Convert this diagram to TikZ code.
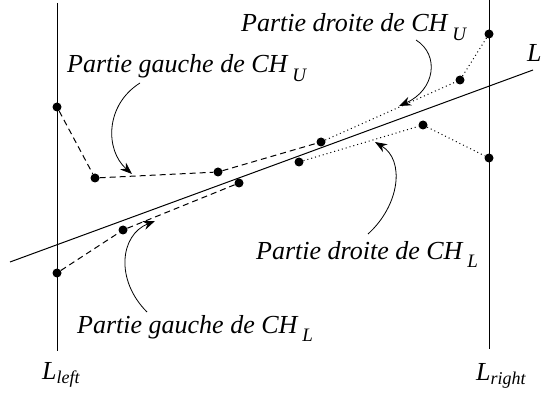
\documentclass[tikz,border=0pt]{standalone}
\usepackage{fontspec}
\setmainfont{Liberation Serif}
\usetikzlibrary{arrows.meta}
\begin{document}
\begin{tikzpicture}[x=1pt,y=-1pt,
  pt/.style={circle,fill,inner sep=0pt,minimum size=9pt},
  lbl/.style={anchor=base west,inner sep=0pt,font=\fontsize{26}{30}\selectfont\itshape},
  hulldash/.style={dash pattern=on 6pt off 4pt,line width=1pt},
  hulldot/.style={dash pattern=on 1pt off 3pt,line width=1pt},
  callout/.style={line width=0.8pt,-{Stealth[length=12pt,width=9pt]}},
  bound/.style={line width=1pt}]
\useasboundingbox (0,0) rectangle (542,396);
% vertical lines
\coordinate (lt) at (57,3);
\coordinate (lb) at (57,351);
\coordinate (rt) at (489,0);
\coordinate (rb) at (489,349);
\draw[bound] (lt) -- (lb);
\draw[bound] (rt) -- (rb);
% line L
\coordinate (La) at (10,262);
\coordinate (Lb) at (533,70);
\draw[bound] (La) -- (Lb);
\node[lbl] (Lname) at (527,62) {L};
% points
\node[pt] (u1) at (57,107) {};
\node[pt] (u2) at (95,178) {};
\node[pt] (u3) at (218,172) {};
\node[pt] (u4) at (321,142) {};
\node[pt] (u5) at (460,80) {};
\node[pt] (u6) at (489,34) {};
\node[pt] (l1) at (57,273) {};
\node[pt] (l2) at (123,230) {};
\node[pt] (l3) at (239,183) {};
\node[pt] (l4) at (299,162) {};
\node[pt] (l5) at (423,125) {};
\node[pt] (l6) at (489,158) {};
% hulls
\draw[hulldash] (u1) -- (u2) -- (u3) -- (u4);
\draw[hulldot] (u4) -- (u5) -- (u6);
\draw[hulldash] (l1) -- (l2) -- (l3);
\draw[hulldot] (l4) -- (l5) -- (l6);
% labels
\node[lbl] (tDU) at (241,32) {Partie droite de CH\hspace{5pt}\raisebox{-9pt}{\fontsize{19}{20}\selectfont U}};
\node[lbl] (tGU) at (67,73) {Partie gauche de CH\hspace{5pt}\raisebox{-9pt}{\fontsize{19}{20}\selectfont U}};
\node[lbl] (tDL) at (256,259) {Partie droite de CH\hspace{5pt}\raisebox{-9pt}{\fontsize{19}{20}\selectfont L}};
\node[lbl] (tGL) at (77,333) {Partie gauche de CH\hspace{5pt}\raisebox{-9pt}{\fontsize{19}{20}\selectfont L}};
\node[lbl] (Lleft) at (42,379) {L\raisebox{-4pt}{\fontsize{18}{20}\selectfont left}};
\node[lbl] (Lright) at (476,381) {L\raisebox{-4pt}{\fontsize{18}{20}\selectfont right}};
% callout arrows
\coordinate (a1s) at (140,83);
\coordinate (a1e) at (132,174);
\coordinate (a2s) at (416,40);
\coordinate (a2e) at (399,106);
\coordinate (a3s) at (368,234);
\coordinate (a3e) at (375,142);
\coordinate (a4s) at (147,312);
\coordinate (a4e) at (155,221);
\draw[callout] (a1s) .. controls (105,105) and (105,150) .. (a1e);
\draw[callout] (a2s) .. controls (440,55) and (435,90) .. (a2e);
\draw[callout] (a3s) .. controls (400,205) and (405,160) .. (a3e);
\draw[callout] (a4s) .. controls (115,280) and (120,235) .. (a4e);
\end{tikzpicture}
\end{document}
